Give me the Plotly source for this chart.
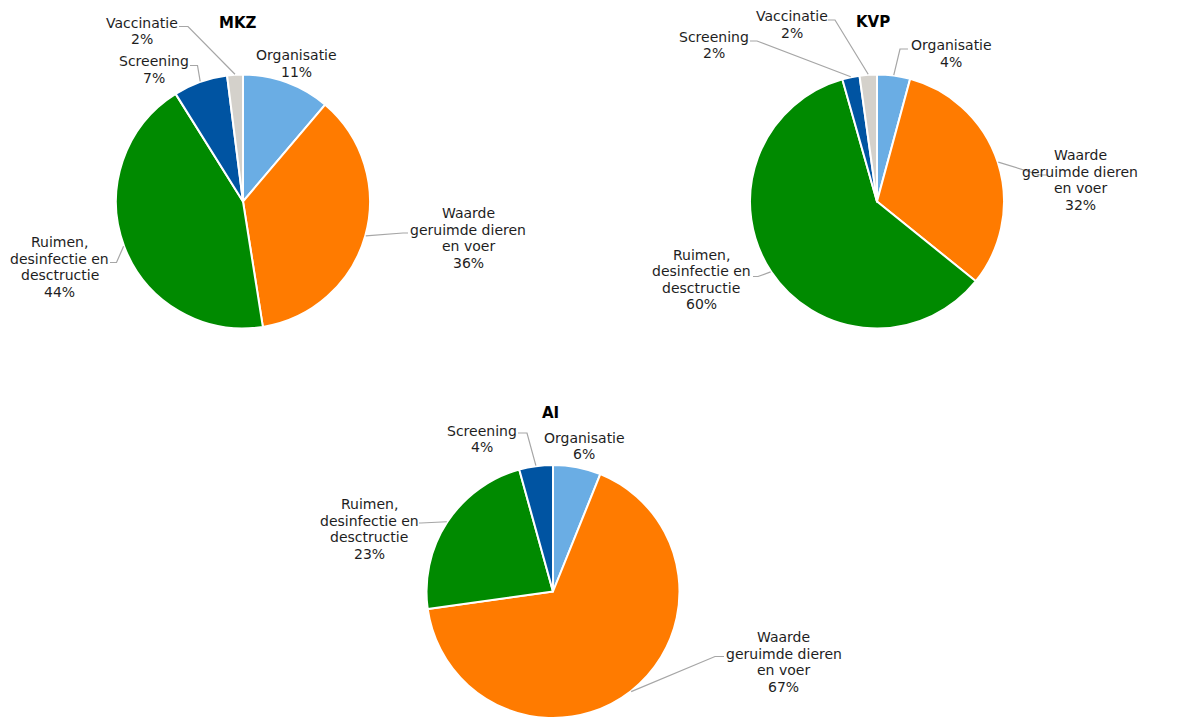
import math
import plotly.graph_objects as go

W, H = 1179, 718

# ---------------- data ----------------
categories = [
    "Organisatie",
    "Waarde geruimde dieren en voer",
    "Ruimen, desinfectie en desctructie",
    "Screening",
    "Vaccinatie",
]
label_lines = [
    ["Organisatie"],
    ["Waarde", "geruimde dieren", "en voer"],
    ["Ruimen,", "desinfectie en", "desctructie"],
    ["Screening"],
    ["Vaccinatie"],
]
mkz_values = [11.2, 36.3, 43.6, 6.9, 2.0]
kvp_values = [4.2, 31.6, 59.8, 2.2, 2.2]
ai_values = [6.1, 66.7, 22.9, 4.3]          # no Vaccinatie for AI
chart_titles = ["MKZ", "KVP", "AI"]

# ---------------- style / layout ----------------
colors = ["#6AADE4", "#FF7B00", "#008A00", "#0054A2", "#D4D1CB"]
FONT = "DejaVu Sans"
TEXT_COLOR = "#1E1E1E"
LEADER_COLOR = "#A6A6A6"
LINE_STEP = 16.5

# pie placement in pixels: center x, center y, radius, title position
pie_layout = [
    dict(cx=243, cy=201.5, r=127, title=(238, 23)),
    dict(cx=877, cy=201.5, r=127, title=(873, 22.5)),
    dict(cx=553, cy=591.5, r=126.5, title=(550, 413)),
]
# label placement in pixels: text-block center, and optional leader (text end x, y, elbow x)
label_layout = [
    [
        dict(c=(297, 63.5), lead=None),
        dict(c=(468, 238), lead=(408, 233, 403)),
        dict(c=(60, 267), lead=(110, 262.5, 116.5)),
        dict(c=(154, 69.5), lead=(190, 65.5, 197.5)),
        dict(c=(142, 31), lead=(179, 26.5, 188)),
    ],
    [
        dict(c=(951, 53.5), lead=(908, 49, 900)),
        dict(c=(1080, 180), lead=(1047, 175, 1040)),
        dict(c=(701, 279.5), lead=(753, 276.5, 758)),
        dict(c=(714, 45), lead=(750, 41, 757)),
        dict(c=(792, 24.5), lead=(828, 20, 835)),
    ],
    [
        dict(c=(584, 446), lead=None),
        dict(c=(784, 662), lead=(724, 656.5, 715)),
        dict(c=(369, 529), lead=(419, 523, 421)),
        dict(c=(482, 439), lead=(518, 433, 527)),
    ],
]

def px(x):
    return x / W

def py(y):
    return 1 - y / H

fig = go.Figure()
annotations = []
shapes = []

all_values = [mkz_values, kvp_values, ai_values]

for k, vals in enumerate(all_values):
    pl = pie_layout[k]
    n = len(vals)
    cats = categories[:n]
    cx, cy, r = pl["cx"], pl["cy"], pl["r"]
    dom_x = [max(0, px(cx - r)), min(1, px(cx + r))]
    dom_y = [max(0, py(cy + r)), min(1, py(cy - r))]
    fig.add_trace(go.Pie(
        labels=cats,
        values=vals,
        sort=False,
        direction="clockwise",
        rotation=0,
        marker=dict(colors=colors[:n], line=dict(color="white", width=2)),
        textinfo="none",
        hoverinfo="label+percent",
        showlegend=False,
        domain=dict(x=dom_x, y=dom_y),
    ))
    # title
    tx, ty = pl["title"]
    annotations.append(dict(
        x=px(tx), y=py(ty), xref="paper", yref="paper", showarrow=False,
        text="<b>%s</b>" % chart_titles[k], xanchor="center", yanchor="middle",
        font=dict(family=FONT, size=15, color="black"),
    ))
    total = sum(vals)
    cum = 0.0
    for i, v in enumerate(vals):
        mid = (cum + v / 2) / total * 2 * math.pi
        cum += v
        pct = round(v / total * 100)
        lines = label_lines[i] + ["%d%%" % pct]
        lab = label_layout[k][i]
        lx, ly = lab["c"]
        m = len(lines)
        for j, t in enumerate(lines):
            yy = ly + (j - (m - 1) / 2) * LINE_STEP
            annotations.append(dict(
                x=px(lx), y=py(yy), xref="paper", yref="paper", showarrow=False,
                text=t, xanchor="center", yanchor="middle",
                font=dict(family=FONT, size=14, color=TEXT_COLOR),
            ))
        if lab["lead"] is not None:
            ex0, ey, elx = lab["lead"]
            edx = cx + (r + 0.5) * math.sin(mid)
            edy = cy - (r + 0.5) * math.cos(mid)
            path = "M %f %f L %f %f L %f %f" % (
                px(ex0), py(ey), px(elx), py(ey), px(edx), py(edy))
            shapes.append(dict(
                type="path", path=path, xref="paper", yref="paper",
                line=dict(color=LEADER_COLOR, width=1.2),
            ))

fig.update_layout(
    width=W, height=H,
    margin=dict(l=0, r=0, t=0, b=0),
    paper_bgcolor="white",
    plot_bgcolor="white",
    annotations=annotations,
    shapes=shapes,
    font=dict(family=FONT),
)

fig.write_html(
    "out.html",
    config={"displayModeBar": False},
    post_script="document.body.style.margin='0';document.body.style.overflow='hidden';",
)
